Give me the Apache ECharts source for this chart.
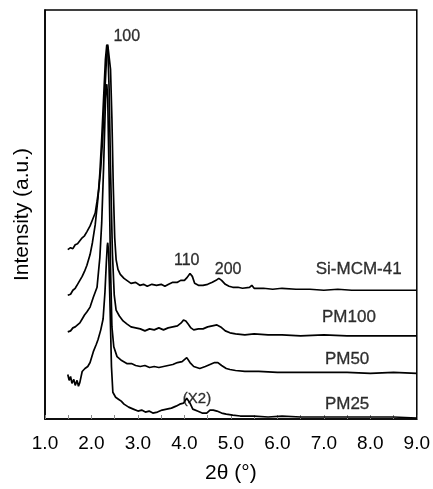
<!DOCTYPE html>
<html><head><meta charset="utf-8">
<script src="https://cdn.jsdelivr.net/npm/echarts@6/dist/echarts.min.js"></script>
<style>html,body{margin:0;padding:0;background:#fff}#c{width:433px;height:489px}</style>
</head><body><div id="c"></div>
<script>
// 2θ (°) values and intensities (a.u.) for each pattern
const thetaSi = [1.49,1.55,1.60,1.65,1.70,1.75,1.80,1.85,1.90,1.97,2.02,2.08,2.12,2.16,2.20,2.24,2.28,2.32,2.35,2.37,2.39,2.41,2.44,2.47,2.50,2.53,2.57,2.62,2.70,2.76,2.85,2.95,3.04,3.12,3.20,3.30,3.40,3.50,3.58,3.66,3.75,3.85,3.92,4.00,4.06,4.12,4.17,4.22,4.30,4.40,4.50,4.60,4.68,4.74,4.80,4.88,4.96,5.04,5.15,5.25,5.40,5.45,5.50,5.70,5.90,6.10,6.40,6.70,7.00,7.30,7.60,8.00,8.30,8.60,9.00];
const intSi   = [171,173,172,176,177,180,183,185,189,195,201,208,220,233,253,283,323,361,378,380,379,353,303,233,183,161,151,146,142,140,137,138,135,136,134,136,135,136,134,136,138,138,140,140,143,147,144,137,135,135,136,138,140,142,140,136,134,133,133,132,133,135,132,132,131,132,131,131,130,131,130,130,130,130,130];

const thetaPM100 = [1.49,1.55,1.60,1.65,1.70,1.75,1.80,1.85,1.90,1.97,2.02,2.08,2.14,2.18,2.22,2.26,2.30,2.33,2.35,2.38,2.41,2.45,2.49,2.53,2.60,2.68,2.76,2.85,2.95,3.05,3.15,3.25,3.35,3.45,3.55,3.65,3.75,3.85,3.93,3.98,4.03,4.08,4.14,4.20,4.30,4.40,4.50,4.60,4.70,4.78,4.88,4.98,5.10,5.30,5.50,5.80,6.10,6.50,7.00,7.50,8.00,8.50,9.00];
const intPM100   = [125,126,130,132,136,140,144,149,155,166,178,196,223,248,283,323,363,378,375,333,253,168,125,110,104,99,96,93,92,91,89,91,90,92,90,92,93,94,97,100,99,96,92,90,91,91,93,94,95,93,89,87,86,85,86,85,85,84,85,84,84,84,84];

const thetaPM50 = [1.49,1.55,1.60,1.65,1.70,1.75,1.80,1.85,1.90,1.97,2.04,2.12,2.15,2.18,2.22,2.26,2.29,2.31,2.33,2.35,2.38,2.41,2.44,2.48,2.55,2.65,2.76,2.86,2.95,3.05,3.15,3.25,3.35,3.45,3.55,3.65,3.75,3.85,3.95,4.05,4.12,4.20,4.33,4.45,4.55,4.65,4.72,4.80,4.90,4.98,5.10,5.30,5.60,6.00,6.50,7.00,7.50,8.00,8.50,9.00];
const intPM50   = [88,89,92,93,95,97,101,105,108,113,123,133,148,163,198,253,303,333,338,323,243,153,93,73,63,59,56,56,54,53,54,52,53,52,53,54,55,57,58,62,57,53,51,53,55,57,57,54,51,50,49,48,48,47,47,47,47,46,47,46];

const thetaPM25 = [1.49,1.52,1.55,1.58,1.62,1.65,1.69,1.72,1.75,1.80,1.86,1.92,1.97,2.04,2.10,2.14,2.20,2.25,2.29,2.32,2.34,2.35,2.37,2.40,2.43,2.46,2.52,2.58,2.64,2.70,2.80,2.90,3.00,3.08,3.16,3.24,3.32,3.42,3.52,3.62,3.72,3.82,3.90,3.98,4.05,4.12,4.18,4.28,4.38,4.48,4.55,4.62,4.70,4.80,4.90,5.04,5.20,5.50,5.80,6.10,6.50,7.00,7.50,8.00,8.50,9.00];
const intPM25   = [45,39,43,36,40,34,39,33,37,48,51,53,57,68,75,80,90,101,128,158,175,178,168,113,53,27,22,20,18,15,12,10,8,9,7,8,6,7,9,10,11,13,15,16,21,16,10,8,6,6,9,9,8,6,5,4,3,3,2,3,2,2,2,2,2,1];

// annotations: text, 2θ, intensity
const annoText  = ['100','110','200','(X2)','Si-MCM-41','PM100','PM50','PM25'];
const annoTheta = [2.76, 4.05, 4.94, 4.27, 7.75, 7.54, 7.50, 7.50];
const annoInt   = [386, 160, 151, 20, 151, 103, 60, 15];

const xTicks = [1,2,3,4,5,6,7,8,9];

const FONT = 'Liberation Sans, Arial, sans-serif';
const annoSize = {'100':16,'110':16,'200':16,'(X2)':15};
function pairs(xs, ys){ return xs.map((x,i)=>[x, ys[i]]); }
function lineSeries(name, xs, ys){
  return {name, type:'line', data:pairs(xs,ys), showSymbol:false, symbol:'none',
    lineStyle:{color:'#000', width:1.7}, animation:false, silent:true, z:3};
}
const chart = echarts.init(document.getElementById('c'), null, {renderer:'canvas'});
chart.setOption({
  animation:false,
  backgroundColor:'#fff',
  grid:{left:45, right:16, top:10, bottom:66, show:true, borderColor:'#000', borderWidth:1.5, backgroundColor:'transparent'},
  xAxis:{type:'value', min:xTicks[0], max:xTicks[xTicks.length-1], interval:1,
    name:'2θ (°)', nameLocation:'middle', nameGap:44,
    nameTextStyle:{fontFamily:FONT, fontSize:21, color:'#000'},
    axisLine:{show:true, lineStyle:{color:'#000', width:1.5}},
    axisTick:{show:true, inside:true, length:4, lineStyle:{color:'#888'}},
    minorTick:{show:true, splitNumber:2, length:4, lineStyle:{color:'#888'}},
    splitLine:{show:false},
    axisLabel:{fontFamily:FONT, fontSize:19, color:'#000', margin:15, formatter:v=>v.toFixed(1)}
  },
  yAxis:{type:'value', min:0, max:413,
    name:'Intensity (a.u.)', nameLocation:'middle', nameGap:12, nameRotate:90,
    nameTextStyle:{fontFamily:FONT, fontSize:21, color:'#000'},
    axisLine:{show:true, lineStyle:{color:'#000', width:1.5}},
    axisTick:{show:false}, axisLabel:{show:false}, splitLine:{show:false}
  },
  series:[
    lineSeries('Si-MCM-41', thetaSi, intSi),
    lineSeries('PM100', thetaPM100, intPM100),
    lineSeries('PM50', thetaPM50, intPM50),
    lineSeries('PM25', thetaPM25, intPM25),
    {type:'scatter', symbolSize:0, silent:true, animation:false, z:5,
     data: annoText.map((t,i)=>({name:t, value:[annoTheta[i], annoInt[i]],
       label:{fontSize: annoSize[t] || 17}})),
     label:{show:true, position:'inside', formatter:p=>p.name, color:'#000', fontFamily:FONT,
       fontSize:17, textBorderColor:'#000', textBorderWidth:0.3}
    }
  ]
});
</script></body></html>
